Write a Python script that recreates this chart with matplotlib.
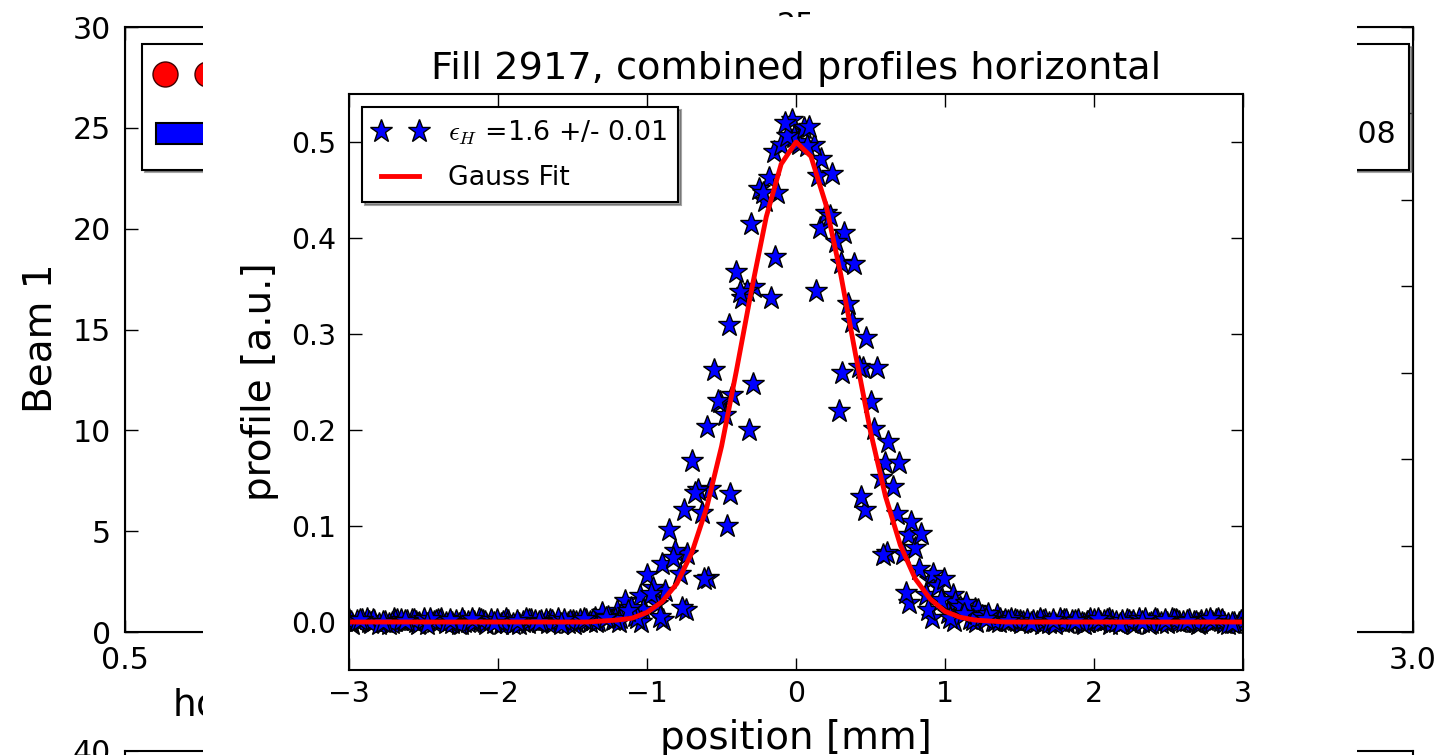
import matplotlib.pyplot as plt
from matplotlib.lines import Line2D
from matplotlib.patches import Patch, Rectangle
from matplotlib.legend_handler import HandlerPatch
import numpy as np

plt.rcParams['font.family'] = 'DejaVu Sans'
plt.rcParams['mathtext.fontset'] = 'cm'

# wire scanner grid [mm] and the small offset of each scan on it
grid_mm = np.linspace(-3.0, 3.0, 41)
scan_shift = [0.0, 0.02, -0.03, 0.01, -0.015, 0.05, -0.06, 0.075]

scan_a = [0.002, -0.001, 0.003, 0.000, 0.002, -0.002, 0.001, 0.003, -0.001, 0.002, 0.001,
          0.004, 0.011, 0.027, 0.060, 0.117, 0.203, 0.309, 0.415, 0.490, 0.509,
          0.465, 0.374, 0.265, 0.166, 0.091, 0.044, 0.028, 0.014, 0.007,
          0.001, -0.002, 0.002, 0.000, 0.003, -0.001, 0.001, 0.002, -0.002, 0.001, 0.003]
scan_b = [-0.002, 0.001, 0.002, -0.001, 0.003, 0.000, -0.002, 0.001, 0.002, -0.001, 0.000,
          0.001, 0.004, 0.012, 0.032, 0.071, 0.139, 0.236, 0.349, 0.447, 0.498,
          0.482, 0.405, 0.296, 0.188, 0.104, 0.050, 0.021, 0.012, 0.003,
          0.000, 0.002, -0.001, 0.003, 0.001, -0.002, 0.002, 0.000, 0.001, -0.001, 0.002]
scan_c = [0.001, 0.003, -0.002, 0.002, 0.000, 0.001, 0.003, -0.002, 0.000, 0.002, -0.001,
          0.000, 0.002, 0.006, 0.019, 0.050, 0.114, 0.216, 0.345, 0.463, 0.523,
          0.497, 0.396, 0.266, 0.150, 0.071, 0.028, 0.009, 0.003, 0.001,
          0.002, 0.000, 0.003, -0.001, 0.001, 0.002, -0.002, 0.003, 0.000, 0.002, -0.001]
scan_d = [0.000, 0.002, 0.001, -0.002, 0.001, 0.003, 0.000, -0.001, 0.002, 0.001, -0.002,
          0.000, 0.000, 0.000, 0.002, 0.012, 0.046, 0.133, 0.248, 0.380, 0.500,
          0.410, 0.259, 0.117, 0.072, 0.020, 0.004, 0.001, 0.000, 0.000,
          -0.001, 0.001, 0.002, 0.000, -0.002, 0.001, 0.003, 0.001, -0.001, 0.002, 0.000]
scan_e = [0.003, 0.000, -0.001, 0.002, 0.001, -0.002, 0.002, 0.000, 0.003, -0.001, 0.001,
          0.002, 0.003, 0.004, 0.005, 0.015, 0.045, 0.100, 0.200, 0.338, 0.505,
          0.345, 0.220, 0.130, 0.070, 0.030, 0.012, 0.004, 0.002, 0.001,
          0.001, 0.003, 0.000, -0.002, 0.002, 0.001, -0.001, 0.002, 0.000, 0.003, 0.001]
scan_f = [0.001, -0.002, 0.002, 0.003, -0.001, 0.000, 0.002, -0.002, 0.001, 0.003, 0.002,
          0.009, 0.022, 0.049, 0.096, 0.168, 0.262, 0.365, 0.451, 0.497, 0.515,
          0.426, 0.331, 0.229, 0.141, 0.077, 0.038, 0.016, 0.006, 0.002,
          0.002, -0.001, 0.001, 0.002, 0.000, 0.003, -0.001, 0.000, 0.002, -0.002, 0.001]
scan_g = [-0.001, 0.002, 0.000, 0.001, 0.003, -0.001, 0.000, 0.002, -0.002, 0.001, 0.002,
          0.002, 0.005, 0.015, 0.035, 0.074, 0.138, 0.229, 0.337, 0.439, 0.506,
          0.516, 0.467, 0.373, 0.265, 0.166, 0.092, 0.045, 0.020, 0.008,
          0.003, 0.001, -0.002, 0.002, 0.000, 0.001, 0.003, -0.001, 0.002, 0.000, -0.001]
scan_h = [0.002, 0.000, 0.001, -0.002, 0.002, 0.003, -0.001, 0.001, 0.000, -0.002, 0.003,
          0.004, 0.011, 0.029, 0.067, 0.134, 0.230, 0.344, 0.447, 0.520, 0.496,
          0.423, 0.313, 0.201, 0.113, 0.055, 0.023, 0.008, 0.003, 0.001,
          -0.001, 0.002, 0.001, 0.003, -0.002, 0.000, 0.002, 0.001, 0.003, -0.001, 0.002]
profiles = [scan_a, scan_b, scan_c, scan_d, scan_e, scan_f, scan_g, scan_h]

fit_x = [-3.0, -1.5, -1.4, -1.3, -1.2, -1.1, -1.0, -0.9, -0.8, -0.7, -0.6, -0.5, -0.4,
         -0.3, -0.2, -0.1, 0.0, 0.1, 0.2, 0.3, 0.4, 0.5, 0.6, 0.7, 0.8, 0.9, 1.0,
         1.1, 1.2, 1.3, 1.4, 1.5, 3.0]
fit_y = [0.000, 0.000, 0.000, 0.001, 0.002, 0.004, 0.010, 0.021, 0.040, 0.072, 0.119,
         0.183, 0.262, 0.345, 0.422, 0.477, 0.500, 0.485, 0.435, 0.362, 0.278, 0.198,
         0.131, 0.080, 0.045, 0.024, 0.011, 0.005, 0.002, 0.001, 0.000, 0.000, 0.000]

emit_h = 1.6
emit_err = 0.01


def bar_handle(legend, orig_handle, xdescent, ydescent, width, height, fontsize):
    # keep the bar at its usual height inside a taller legend row
    h = 0.7 * fontsize
    return Rectangle((-xdescent, -ydescent + (height - h) / 2), width, h)


fig = plt.figure(figsize=(14.52, 7.55), dpi=100)

# emittance summary panel for beam 1 (sits behind the profile plot)
ax_b1 = fig.add_axes([0.0861, 0.1629, 0.8871, 0.8013])
ax_b1.set_zorder(0)
ax_b1.set_xlim(0.5, 3.0)
ax_b1.set_ylim(0, 30)
ax_b1.set_yticks(range(0, 31, 5))
ax_b1.set_xticks([0.5, 1.0, 1.5, 2.0, 2.5, 3.0])
ax_b1.tick_params(direction='in', length=9, width=1, labelsize=21.6, pad=10,
                  top=True, right=False)
for s in ax_b1.spines.values():
    s.set_linewidth(1.5)
ax_b1.set_ylabel('Beam 1', fontsize=28)
ax_b1.yaxis.set_label_coords(-0.0505, 0.485)
ax_b1.set_xlabel('horizontal emittance [$\\mu$m]', fontsize=27, ha='left')
ax_b1.xaxis.set_label_coords(0.0365, -0.09)

ax_b1r = ax_b1.twinx()
ax_b1r.set_ylim(0, 3.5)
ax_b1r.set_yticks(np.arange(0, 3.6, 0.5))
ax_b1r.tick_params(direction='in', length=9, width=1, labelright=False)
h_bsrt = Line2D([], [], ls='none', marker='o', ms=18, mfc='r', mec='#400000', mew=1)
h_ws = Patch(fc='b', ec='k', lw=1.5)
leg_b1 = ax_b1r.legend([h_bsrt, h_ws],
                       ['BSRT, single bunches',
                        'Wire scanners, average horizontal emittance over all colliding bunches: 2.08'],
                       loc='upper left', numpoints=2, fontsize=21.6, borderaxespad=0.57,
                       borderpad=0.45, labelspacing=0.3, handlelength=2.0, handleheight=1.92,
                       handler_map={Patch: HandlerPatch(patch_func=bar_handle)},
                       shadow=True, fancybox=False, framealpha=1)
leg_b1.get_frame().set_edgecolor('k')
leg_b1.get_frame().set_linewidth(1.5)

ax_b2 = fig.add_axes([0.0861, -0.6, 0.8871, 0.6053])
ax_b2.set_zorder(0)
ax_b2.set_ylim(0, 40)
ax_b2.set_yticks([40])
ax_b2.set_xticks([])
ax_b2.tick_params(direction='in', length=9, labelsize=21.6, pad=10)
for s in ax_b2.spines.values():
    s.set_linewidth(1.5)

fig.text(0.548, 1 - 11 / 755, '25', ha='center', va='top', fontsize=21.6, zorder=0.5)

# white sheet for the combined profile figure
fig.add_artist(Rectangle((0.1398, 0), 0.7948, 0.9775, transform=fig.transFigure,
                         fc='w', ec='none', zorder=1))

ax = fig.add_axes([0.2404, 0.1126, 0.6157, 0.7629])
ax.set_zorder(2)
for i, (shift, prof) in enumerate(zip(scan_shift, profiles)):
    label = r'$\epsilon_H$ ={0} +/- {1}'.format(emit_h, emit_err) if i == 0 else None
    ax.plot(grid_mm + shift, prof, ls='none', marker='*', ms=17, mfc='b', mec='k',
            mew=1, label=label)
ax.plot(fit_x, fit_y, color='r', lw=3.5, label='Gauss Fit')

ax.set_xlim(-3, 3)
ax.set_ylim(-0.05, 0.55)
ax.set_xticks(range(-3, 4))
ax.set_yticks([0.0, 0.1, 0.2, 0.3, 0.4, 0.5])
ax.tick_params(direction='in', length=9, width=1, labelsize=20.4, top=True, right=True)
ax.tick_params(axis='x', pad=7)
ax.tick_params(axis='y', pad=9)
for s in ax.spines.values():
    s.set_linewidth(1.5)
ax.set_xlabel('position [mm]', fontsize=28, labelpad=8)
ax.set_ylabel('profile [a.u.]', fontsize=28, labelpad=9)
ax.set_title('Fill 2917, combined profiles horizontal', fontsize=27.5, pad=11)

leg = ax.legend(loc='upper left', numpoints=2, fontsize=19.3, borderaxespad=0.5,
                borderpad=0.4, labelspacing=0.7, handlelength=2.0, shadow=True,
                fancybox=False, framealpha=1)
leg.get_frame().set_edgecolor('k')
leg.get_frame().set_linewidth(1.5)

fig.savefig('out.png', dpi=100)
